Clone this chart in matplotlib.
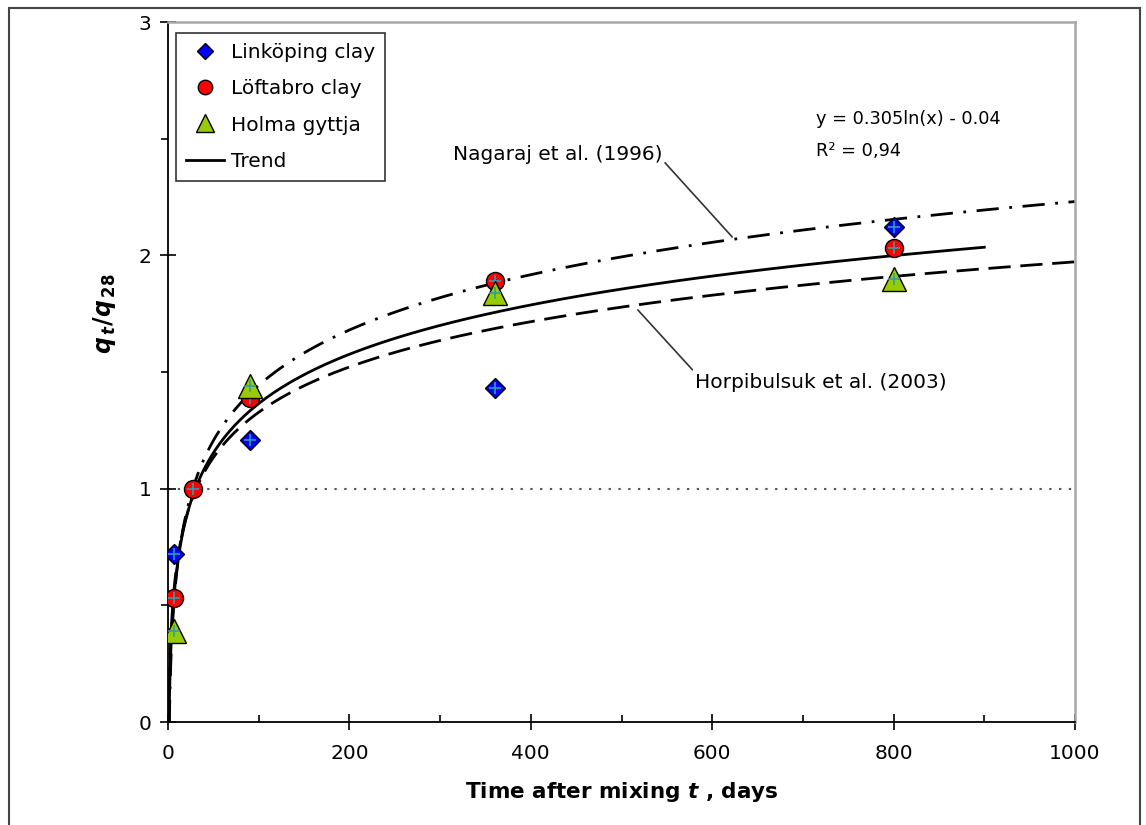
import numpy as np
import matplotlib
matplotlib.use("Agg")
import matplotlib.pyplot as plt
from matplotlib.patches import Rectangle

# measured points (days, qt/q28)
t_link = [7, 90, 360, 800]
q_link = [0.72, 1.21, 1.43, 2.12]
t_loft = [7, 28, 90, 360, 800]
q_loft = [0.53, 1.00, 1.39, 1.89, 2.03]
t_holma = [7, 90, 360, 800]
q_holma = [0.39, 1.44, 1.84, 1.90]

# log curves y = a*ln(t) + b
trend_ab = [0.305, -0.04]
trend_tmax = 900
nagaraj_ab = [0.342, -0.132]
horpi_ab = [0.280, 0.038]
lit_tmax = 1000

plt.rcParams['font.family'] = ['DejaVu Sans']
plt.rcParams['mathtext.fontset'] = 'custom'
plt.rcParams['mathtext.it'] = 'DejaVu Sans:italic:bold'
plt.rcParams['mathtext.rm'] = 'DejaVu Sans:bold'
plt.rcParams['mathtext.bf'] = 'DejaVu Sans:bold'

W, H = 1146, 825
fig = plt.figure(figsize=(W / 100, H / 100), dpi=100)
ax = fig.add_axes([168 / W, (H - 722) / H, (1075 - 168) / W, 700 / H])

def curve(ab, tmax):
    a, b = ab
    t0 = np.exp(-b / a)
    t = np.geomspace(t0, tmax, 500)
    return t, a * np.log(t) + b

lw = 2.0
t, y = curve(nagaraj_ab, lit_tmax)
ax.plot(t, y, color='black', lw=lw, dashes=(8, 3.8, 1.0, 3.8), zorder=2)
t, y = curve(horpi_ab, lit_tmax)
ax.plot(t, y, color='black', lw=lw, dashes=(8, 3.5), zorder=2)
t, y = curve(trend_ab, trend_tmax)
ax.plot(t, y, color='black', lw=lw, zorder=2, label='Trend')

ax.plot([0, 1000], [1, 1], color='#555555', lw=1.5, dashes=(1.1, 3.6), zorder=1)

ax.plot(t_link, q_link, ls='none', marker='D', ms=10.5, mfc='#0000ff', mec='black',
        mew=1.0, zorder=3, label='Linköping clay')
ax.plot(t_loft, q_loft, ls='none', marker='o', ms=13, mfc='#ff0000', mec='black',
        mew=1.0, zorder=4, label='Löftabro clay')
ax.plot(t_holma, q_holma, ls='none', marker='^', ms=17, mfc='#99cc00', mec='black',
        mew=1.0, zorder=5, label='Holma gyttja')
for tt, qq, z in [(t_link, q_link, 3.5), (t_loft, q_loft, 4.5), (t_holma, q_holma, 5.5)]:
    ax.plot(tt, qq, ls='none', marker='+', ms=8, mec='#2aa0a8', mew=1.2, zorder=z)

ax.set_xlim(0, 1000)
ax.set_ylim(0, 3)
ax.set_xticks([0, 200, 400, 600, 800, 1000])
ax.set_xticks(np.arange(100, 1000, 200), minor=True)
ax.set_yticks([0, 1, 2, 3])
ax.set_yticks([0.5, 1.5, 2.5], minor=True)
ax.tick_params(axis='both', which='major', direction='inout', length=12, width=1.2,
               labelsize=14.5)
ax.tick_params(axis='y', which='minor', direction='out', length=5, width=1.2)
ax.tick_params(axis='x', which='minor', direction='in', length=5, width=1.2)
ax.tick_params(axis='y', which='major', pad=6)
ax.tick_params(axis='x', which='major', pad=10)

for s in ['left', 'bottom']:
    ax.spines[s].set_color('black')
    ax.spines[s].set_linewidth(1.3)
for s in ['top', 'right']:
    ax.spines[s].set_color('#a8a8a8')
    ax.spines[s].set_linewidth(1.8)

ax.set_xlabel('Time after mixing $t$ , days', fontsize=15.5, fontweight='bold', labelpad=12)
ax.set_ylabel(r'$q_{\,t}/q_{\,28}$', fontsize=17, rotation=90)
ax.yaxis.set_label_coords(-0.055, 0.583)

h, l = ax.get_legend_handles_labels()
order = [1, 2, 3, 0]
leg = ax.legend([h[i] for i in order], [l[i] for i in order], loc='upper left',
                bbox_to_anchor=(0.009, 0.984), fontsize=14.5, frameon=True,
                fancybox=False, framealpha=1, edgecolor='#333333', borderpad=0.5,
                labelspacing=0.85, handlelength=1.9, handletextpad=0.3,
                borderaxespad=0, markerscale=0.8)
leg.get_frame().set_linewidth(1.2)

ax.text(714, 2.585, 'y = 0.305ln(x) - 0.04', fontsize=12.8, ha='left', va='center')
ax.text(714, 2.447, 'R² = 0,94', fontsize=12.8, ha='left', va='center')

ax.annotate('Nagaraj et al. (1996)', xy=(622, 2.079), xytext=(314, 2.43),
            fontsize=14.5, ha='left', va='center',
            arrowprops=dict(arrowstyle='-', color='#333333', lw=1.2,
                            shrinkA=0, shrinkB=0, relpos=(1.0, 0.25)))
ax.annotate('Horpibulsuk et al. (2003)', xy=(518, 1.766), xytext=(581, 1.457),
            fontsize=14.5, ha='left', va='center',
            arrowprops=dict(arrowstyle='-', color='#333333', lw=1.2,
                            shrinkA=0, shrinkB=0, relpos=(0.0, 1.0)))

fig.patches.append(Rectangle((9 / W, -0.02), (1140 - 9) / W, 1 - 8 / H + 0.02,
                             transform=fig.transFigure, fill=False,
                             ec='#444444', lw=1.5))

fig.savefig('out.png', dpi=100)
